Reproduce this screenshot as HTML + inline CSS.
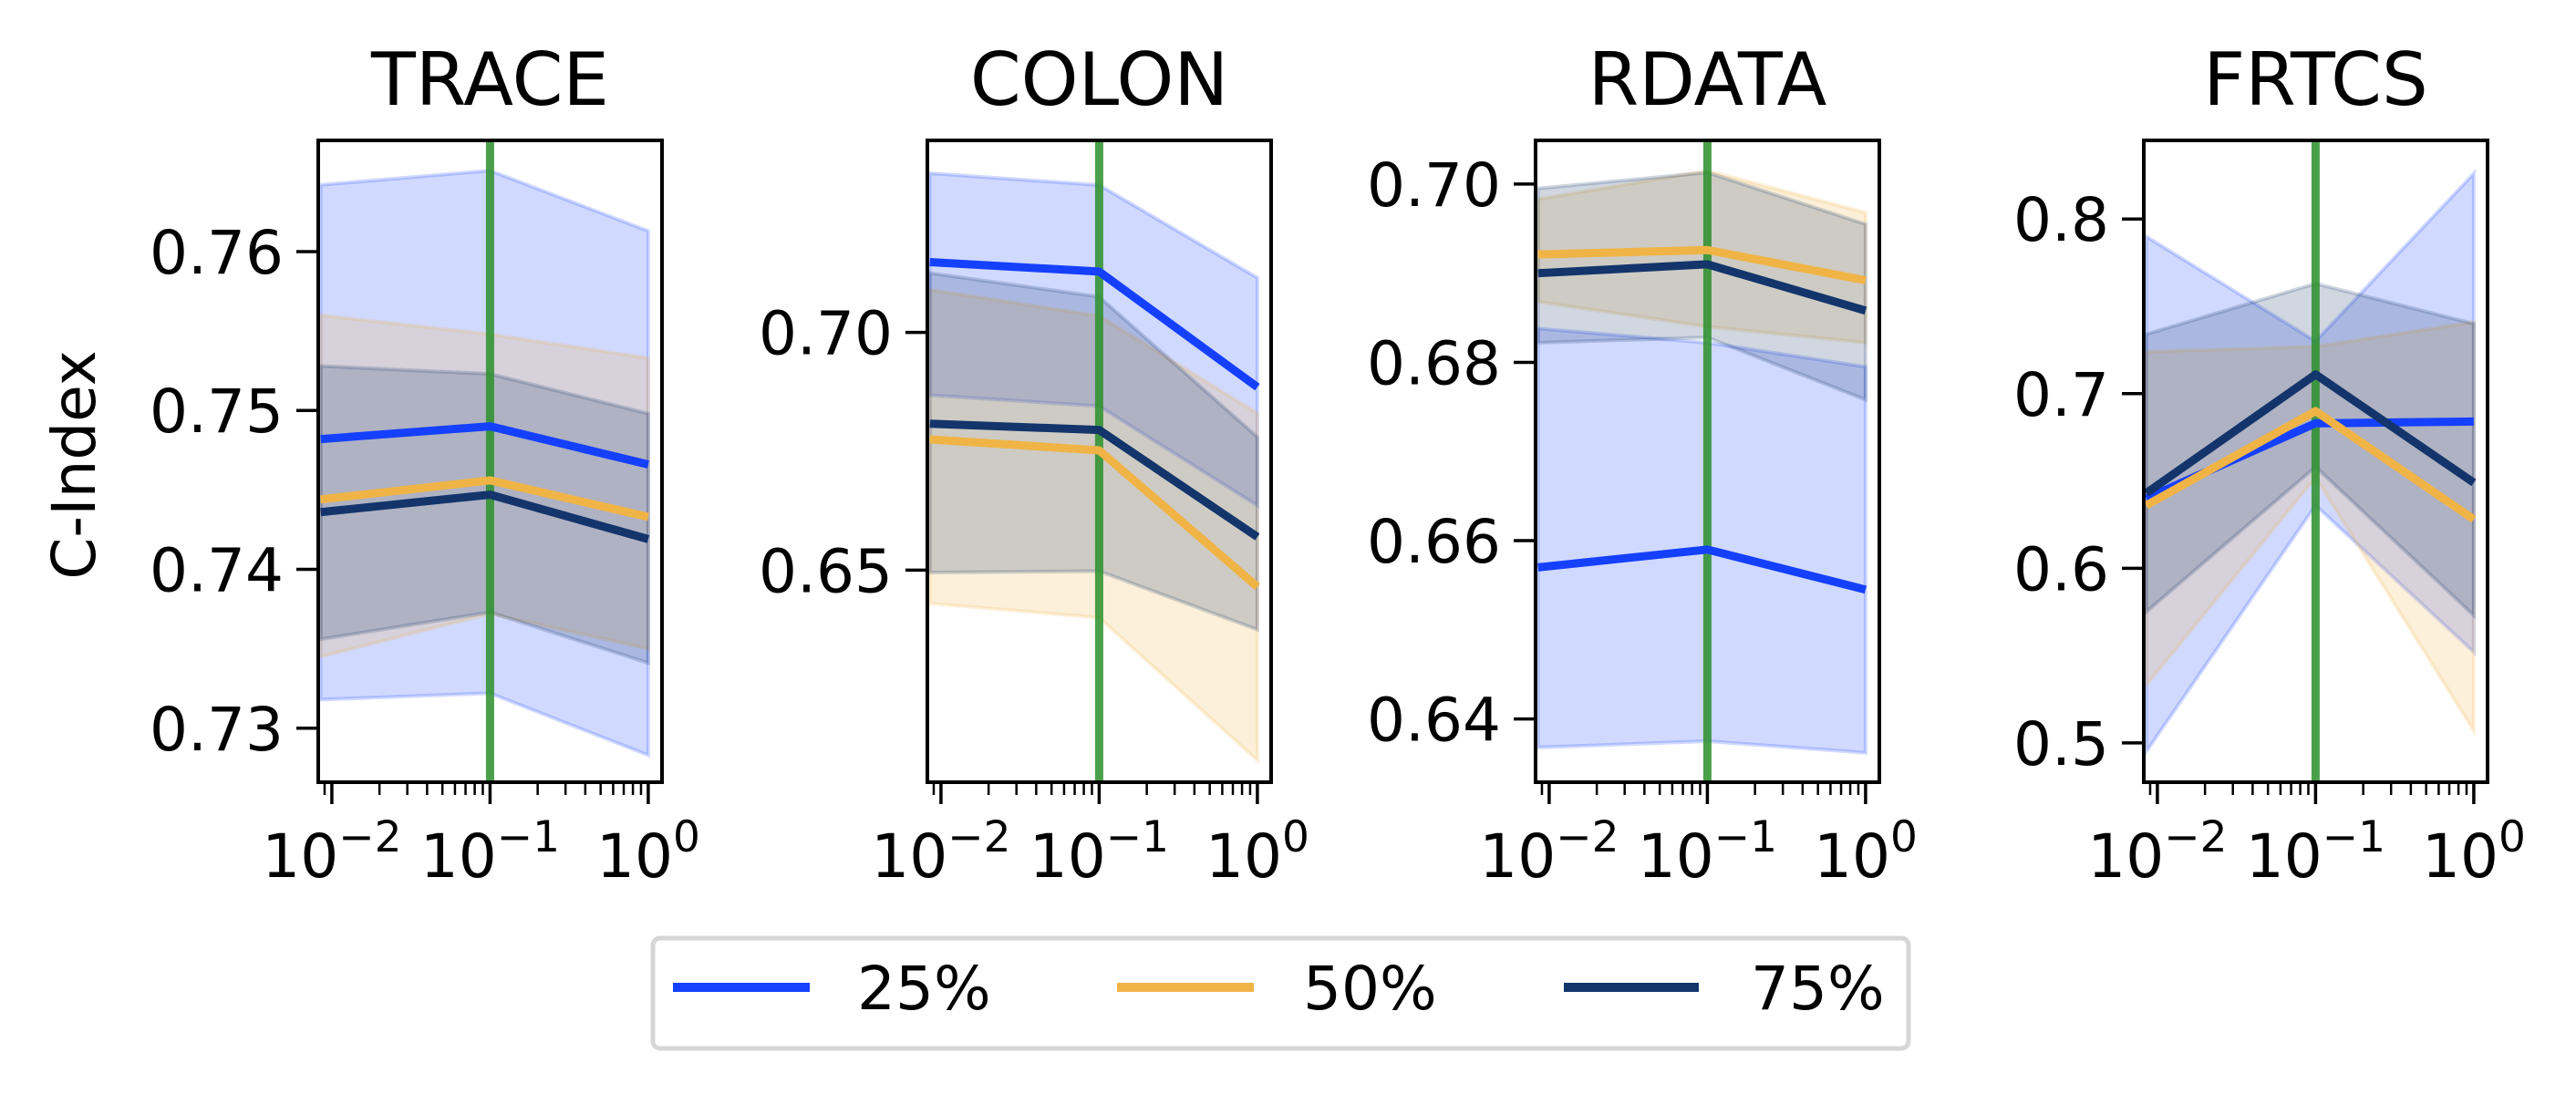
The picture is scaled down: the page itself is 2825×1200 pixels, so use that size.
<!DOCTYPE html>
<html><head><meta charset="utf-8"><style>
html,body{margin:0;padding:0;background:#fff;}
svg{display:block;font-family:"DejaVu Sans","Liberation Sans",sans-serif;}
</style></head><body>
<svg id="fig" width="2825" height="1200" viewBox="0 0 2825 1200" xmlns="http://www.w3.org/2000/svg">
<rect width="2825" height="1200" fill="#fff"/>
<text x="0" y="0" font-size="66" text-anchor="middle" transform="translate(104,510) rotate(-90)">C-Index</text>
<g>
<rect x="716" y="1029" width="1377" height="121" rx="8" fill="#fff" stroke="#d6d6d6" stroke-width="5"/>
<line x1="738" y1="1083" x2="888" y2="1083" stroke="#1540ff" stroke-width="10"/>
<text x="940" y="1107" font-size="66">25%</text>
<line x1="1225" y1="1083" x2="1375" y2="1083" stroke="#f0b446" stroke-width="10"/>
<text x="1429" y="1107" font-size="66">50%</text>
<line x1="1715" y1="1083" x2="1863" y2="1083" stroke="#13356b" stroke-width="10"/>
<text x="1920" y="1107" font-size="66">75%</text>
</g>
</svg>
<script>
const xValues = [0.0085, 0.1, 1];
const titles = ["TRACE", "COLON", "RDATA", "FRTCS"];
const seriesNames = ["25%", "50%", "75%"];
// TRACE
const traceMean = [[0.7482, 0.7490, 0.7466], [0.7444, 0.7456, 0.7433], [0.7436, 0.7447, 0.7419]];
const traceUpper = [[0.7642, 0.7651, 0.7613], [0.7560, 0.7548, 0.7533], [0.7528, 0.7523, 0.7498]];
const traceLower = [[0.7318, 0.7322, 0.7283], [0.7345, 0.7372, 0.7350], [0.7356, 0.7373, 0.7341]];
const traceTicks = [0.73, 0.74, 0.75, 0.76];
const traceTickLabels = ["0.73", "0.74", "0.75", "0.76"];
const traceYLim = [0.7266, 0.7670];
// COLON
const colonMean = [[0.7148, 0.7128, 0.6885], [0.6775, 0.6752, 0.6465], [0.6808, 0.6795, 0.6570]];
const colonUpper = [[0.7335, 0.7310, 0.7115], [0.7090, 0.7035, 0.6830], [0.7125, 0.7075, 0.6780]];
const colonLower = [[0.6868, 0.6845, 0.6636], [0.6430, 0.6400, 0.6100], [0.6495, 0.6498, 0.6375]];
const colonTicks = [0.65, 0.70];
const colonTickLabels = ["0.65", "0.70"];
const colonYLim = [0.6054, 0.7404];
// RDATA
const rdataMean = [[0.6570, 0.6590, 0.6545], [0.6921, 0.6926, 0.6892], [0.6900, 0.6910, 0.6858]];
const rdataUpper = [[0.6838, 0.6822, 0.6795], [0.6983, 0.7015, 0.6968], [0.6995, 0.7013, 0.6955]];
const rdataLower = [[0.6368, 0.6375, 0.6362], [0.6868, 0.6840, 0.6822], [0.6822, 0.6828, 0.6758]];
const rdataTicks = [0.64, 0.66, 0.68, 0.70];
const rdataTickLabels = ["0.64", "0.66", "0.68", "0.70"];
const rdataYLim = [0.6329, 0.7049];
// FRTCS
const frtcsMean = [[0.640, 0.683, 0.684], [0.636, 0.690, 0.628], [0.643, 0.711, 0.649]];
const frtcsUpper = [[0.790, 0.730, 0.826], [0.724, 0.727, 0.741], [0.734, 0.763, 0.740]];
const frtcsLower = [[0.495, 0.636, 0.552], [0.533, 0.652, 0.507], [0.575, 0.658, 0.573]];
const frtcsTicks = [0.5, 0.6, 0.7, 0.8];
const frtcsTickLabels = ["0.5", "0.6", "0.7", "0.8"];
const frtcsYLim = [0.4775, 0.845];

const vlineX = 0.1;
const xTickExp = [-2, -1, 0];
const xLogLim = [-2.086, 0.087];

const colors = ["#1540ff", "#f0b446", "#13356b"];
const panelLeft = [349, 1017, 1684, 2351];
const panelW = 377, panelTop = 154, panelBot = 858;
const NS = "http://www.w3.org/2000/svg";
const svg = document.getElementById("fig");
function mk(tag, attrs, parent) {
  const e = document.createElementNS(NS, tag);
  for (const k in attrs) e.setAttribute(k, attrs[k]);
  (parent || svg).appendChild(e);
  return e;
}
const panels = [
  [traceMean, traceUpper, traceLower, traceTicks, traceTickLabels, traceYLim],
  [colonMean, colonUpper, colonLower, colonTicks, colonTickLabels, colonYLim],
  [rdataMean, rdataUpper, rdataLower, rdataTicks, rdataTickLabels, rdataYLim],
  [frtcsMean, frtcsUpper, frtcsLower, frtcsTicks, frtcsTickLabels, frtcsYLim]
];
panels.forEach((p, pi) => {
  const [mean, up, lo, ticks, tlabels, ylim] = p;
  const L = panelLeft[pi];
  const xs = v => L + (Math.log10(v) - xLogLim[0]) / (xLogLim[1] - xLogLim[0]) * panelW;
  const ys = v => panelBot - (v - ylim[0]) / (ylim[1] - ylim[0]) * (panelBot - panelTop);
  const g = mk("g", {});
  
  
  const cid = "clip" + pi;
  const cp = mk("clipPath", {id: cid}, g);
  mk("rect", {x: L, y: panelTop, width: panelW, height: panelBot - panelTop}, cp);
  const plot = mk("g", {"clip-path": "url(#" + cid + ")"}, g);
  for (let s = 0; s < 3; s++) {
    let d = "";
    xValues.forEach((x, i) => { d += (i ? "L" : "M") + xs(x) + "," + ys(up[s][i]); });
    for (let i = xValues.length - 1; i >= 0; i--) d += "L" + xs(xValues[i]) + "," + ys(lo[s][i]);
    d += "Z";
    const band = mk("path", {d: d, fill: colors[s], "fill-opacity": 0.2, stroke: colors[s], "stroke-opacity": 0.2, "stroke-width": 4}, plot);
    
    
  }
  const vl = mk("line", {x1: xs(vlineX), x2: xs(vlineX), y1: panelTop, y2: panelBot, stroke: "#2a8f2a", "stroke-opacity": 0.85, "stroke-width": 9}, plot);
  
  
  for (let s = 0; s < 3; s++) {
    const pts = xValues.map((x, i) => xs(x) + "," + ys(mean[s][i])).join(" ");
    const ln = mk("polyline", {points: pts, fill: "none", stroke: colors[s], "stroke-width": 9, "stroke-linejoin": "round"}, plot);
    
    
  }
  const fr = mk("rect", {x: L, y: panelTop, width: panelW, height: panelBot - panelTop, fill: "none", stroke: "#000", "stroke-width": 4}, g);
  
  
  const t = mk("text", {x: L + panelW / 2, y: 115, "font-size": 80, "text-anchor": "middle"}, g);
  t.textContent = titles[pi];
  
  
  ticks.forEach((v, i) => {
    const y = ys(v);
    mk("line", {x1: L - 24, x2: L, y1: y, y2: y, stroke: "#000", "stroke-width": 3.5}, g);
    const tl = mk("text", {x: L - 38, y: y + 24, "font-size": 66, "text-anchor": "end"}, g);
    tl.textContent = tlabels[i];
    
    
  });
  for (let e = -3; e <= 0; e++) {
    for (let m = 1; m <= 9; m++) {
      const lv = e + Math.log10(m);
      if (lv < xLogLim[0] || lv > xLogLim[1]) continue;
      const x = xs(Math.pow(10, lv));
      mk("line", {x1: x, x2: x, y1: panelBot, y2: panelBot + (m === 1 ? 24 : 14), stroke: "#000", "stroke-width": m === 1 ? 3.5 : 2.5}, g);
    }
  }
  xTickExp.forEach(e => {
    const x = xs(Math.pow(10, e));
    const tx = mk("text", {x: x, y: 962, "font-size": 66, "text-anchor": "middle"}, g);
    
    
    const a = document.createElementNS(NS, "tspan"); a.textContent = "10"; tx.appendChild(a);
    const b = document.createElementNS(NS, "tspan"); b.setAttribute("dy", "-28"); b.setAttribute("font-size", "47");
    b.textContent = e === 0 ? "0" : "\u2212" + (-e); tx.appendChild(b);
  });
});
</script>
</body></html>
